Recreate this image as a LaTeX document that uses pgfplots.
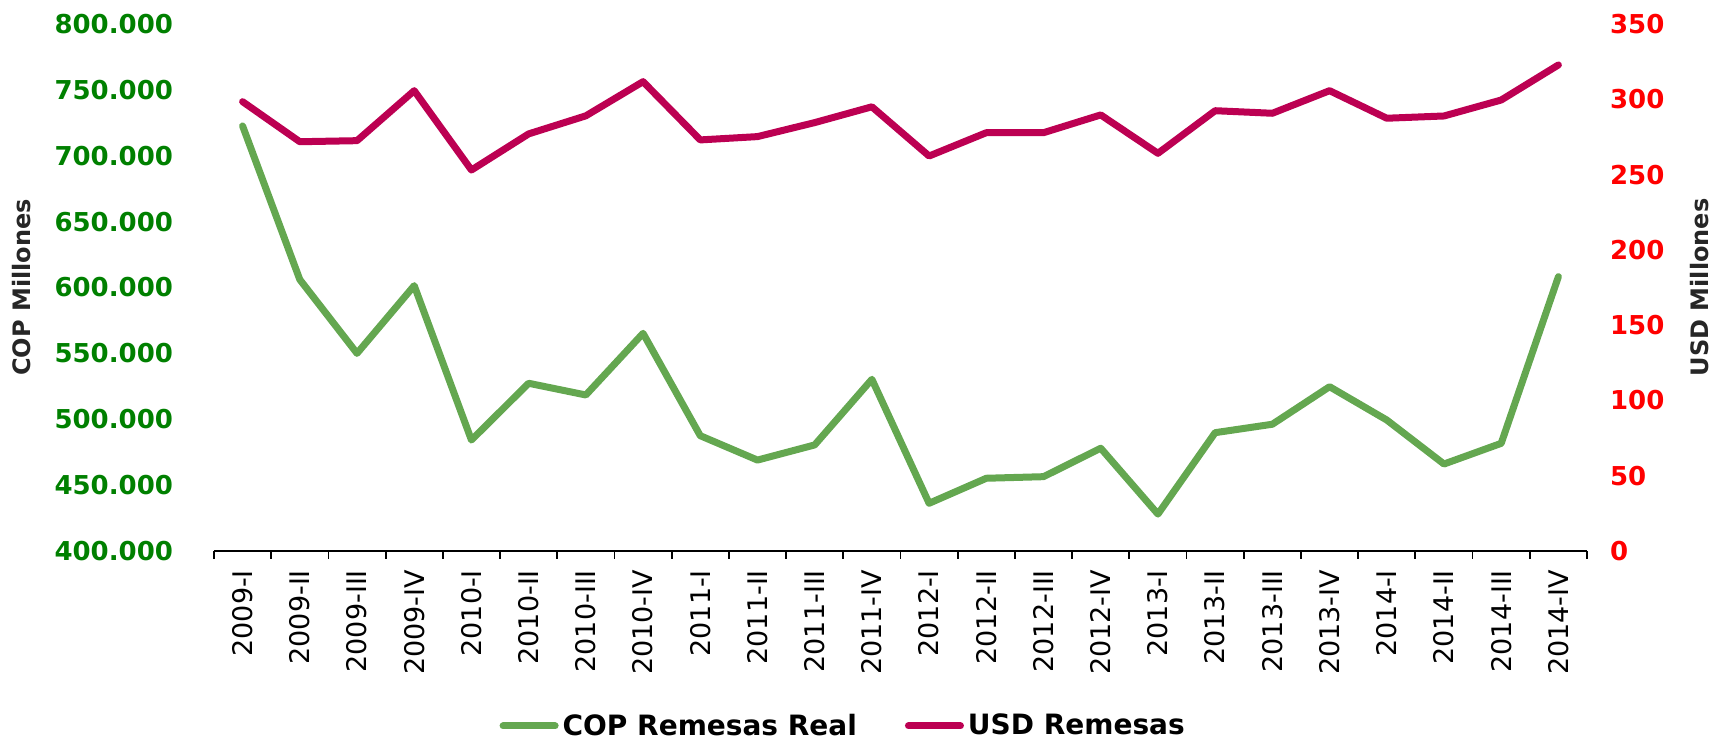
\documentclass[border=0pt]{standalone}
\usepackage{pgfplots}
\usepackage{pgfplotstable}
\pgfplotsset{compat=1.18}
\usepackage{fontspec}
\setmainfont{DejaVu Sans}
\definecolor{copgreen}{RGB}{100,167,80}
\definecolor{usdred}{RGB}{188,0,82}
\definecolor{tickgreen}{RGB}{0,128,0}
\definecolor{tickred}{RGB}{255,0,0}
\definecolor{titlegray}{RGB}{38,38,38}

% quarters 2009-I .. 2014-IV; cop in thousands of COP millions
\pgfplotstableread{
idx cop usd
0 722.6 298.4
1 606.0 271.8
2 550.0 272.5
3 601.4 305.7
4 484.2 253.0
5 527.3 277.0
6 518.4 289.0
7 565.2 311.7
8 487.5 273.0
9 469.0 275.2
10 480.5 284.5
11 530.3 295.0
12 436.2 262.3
13 455.2 277.8
14 456.4 277.8
15 478.0 289.6
16 428.0 264.1
17 489.8 292.4
18 496.2 290.7
19 524.7 305.7
20 499.4 287.4
21 466.0 288.9
22 481.7 299.5
23 608.2 322.8
}\remesas

\pgfplotsset{
  base/.style={
    width=686.5pt, height=263.5pt, scale only axis,
    xmin=-0.5, xmax=23.5,
    scaled y ticks=false,
    major y tick style={draw=none},
    y axis line style={draw=none},
  },
  serie/.style={line width=3.5pt, line cap=round, line join=round},
}

\begin{document}
\begin{tikzpicture}
\begin{axis}[base, name=ax,
  axis x line*=bottom, axis y line*=left,
  ymin=400, ymax=800,
  ytick={400,450,...,800},
  yticklabels={400.000,450.000,500.000,550.000,600.000,650.000,700.000,750.000,800.000},
  yticklabel style={font=\bfseries\fontsize{13}{13}\selectfont, color=tickgreen},
  yticklabel shift=13pt,
  xtick={0,...,23},
  xticklabels={2009-I,2009-II,2009-III,2009-IV,2010-I,2010-II,2010-III,2010-IV,
    2011-I,2011-II,2011-III,2011-IV,2012-I,2012-II,2012-III,2012-IV,
    2013-I,2013-II,2013-III,2013-IV,2014-I,2014-II,2014-III,2014-IV},
  xticklabel style={rotate=90, anchor=east, font=\fontsize{13.5}{13.5}\selectfont},
  xticklabel shift=2pt,
  major x tick style={draw=none},
  minor xtick={-0.5,0.5,...,23.5},
  minor tick length=4pt,
  major tick length=4pt,
  tick align=outside,
  minor x tick style={black, line width=0.9pt},
  x axis line style={black, line width=0.9pt},
  ylabel={COP Millones},
  ylabel style={at={(rel axis cs:-0.1398,0.5)}, anchor=center,
    font=\bfseries\fontsize{12}{12}\selectfont, color=titlegray},
  legend style={at={(0.459,-0.332)}, anchor=center, draw=none,
    font=\bfseries\fontsize{14}{14}\selectfont,
    /tikz/every even column/.append style={column sep=22pt}},
  legend columns=2,
  legend image code/.code={\draw[#1] (0pt,0pt) -- (26pt,0pt);},
]
\addplot[serie, copgreen] table[x=idx, y=cop] {\remesas};
\addlegendentry{COP Remesas Real}
\addlegendimage{serie, usdred}
\addlegendentry{USD Remesas}
\end{axis}

\begin{axis}[base,
  hide x axis,
  axis y line*=right,
  ymin=0, ymax=350,
  ytick={0,50,...,350},
  yticklabels={0,50,100,150,200,250,300,350},
  yticklabel style={font=\bfseries\fontsize{13}{13}\selectfont, color=tickred},
  yticklabel shift=8pt,
  ylabel={USD Millones},
  ylabel style={at={(rel axis cs:1.0823,0.5)}, anchor=center,
    font=\bfseries\fontsize{12}{12}\selectfont, color=titlegray},
]
\addplot[serie, usdred] table[x=idx, y=usd] {\remesas};
\end{axis}

\pgfresetboundingbox
\path ([shift={(-107pt,-94pt)}]ax.south west) rectangle ([shift={(63pt,12pt)}]ax.north east);
\end{tikzpicture}
\end{document}
